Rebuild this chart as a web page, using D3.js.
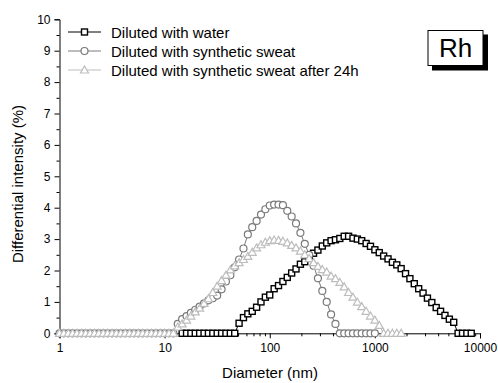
<!DOCTYPE html>
<html><head><meta charset="utf-8">
<script src="https://cdn.jsdelivr.net/npm/d3@7"></script>
<style>body{margin:0;background:#fff}svg{display:block;font-family:"Liberation Sans",Arial,sans-serif}</style>
</head><body><svg id="c" width="498" height="383"></svg>
<script>
// Shared log-spaced diameter grid (nm)
const diameters = [1,1.100,1.212,1.334,1.468,1.616,1.778,1.957,2.154,2.371,2.610,2.873,3.162,3.481,3.831,4.217,4.642,5.109,5.623,6.190,6.813,7.499,8.254,9.085,
10,11.01,12.12,13.34,14.68,16.16,17.78,19.57,21.54,23.71,26.10,28.73,31.62,34.81,38.31,42.17,46.42,51.09,56.23,61.90,68.13,74.99,82.54,90.85,
100,110.1,121.2,133.4,146.8,161.6,177.8,195.7,215.4,237.1,261.0,287.3,316.2,348.1,383.1,421.7,464.2,510.9,562.3,619.0,681.3,749.9,825.4,908.5,
1000,1101,1212,1334,1468,1616,1778,1957,2154,2371,2610,2873,3162,3481,3831,4217,4642,5109,5623,6190,6813,7499,8254,9085,10000];

// Each series: first grid index + values
const waterStart = 28;
const waterValues = [0,0,0,0,0,0,0,0,0,0,0,0,0,
  0.32,0.5,0.62,0.7,0.83,1.0,1.15,1.22,1.42,1.52,1.65,1.78,1.92,2.05,2.2,2.28,2.42,2.55,2.65,2.78,2.88,2.95,2.98,3.02,3.09,3.09,
  3.03,3.0,2.95,2.86,2.77,2.66,2.57,2.46,2.37,2.26,2.18,2.06,1.9,1.74,1.58,1.42,1.28,1.12,0.98,0.82,0.7,0.57,0.45,0.35,
  0,0,0,0];

const sweatStart = 0;
const sweatValues = [0,0,0,0,0,0,0,0,0,0,0,0,0,0,0,0,0,0,0,0,0,0,0,0,0,0,0,
  0.3,0.45,0.55,0.65,0.75,0.85,0.95,1.05,1.12,1.2,1.4,1.65,1.85,2.1,2.35,2.7,3.15,3.38,3.58,3.78,3.95,4.07,4.1,4.1,4.08,
  3.9,3.72,3.5,3.2,2.85,2.5,2.15,1.75,1.35,1.0,0.6,0.3,
  0,0,0,0,0,0,0,0,0];

const sweat24Start = 0;
const sweat24Values = [0,0,0,0,0,0,0,0,0,0,0,0,0,0,0,0,0,0,0,0,0,0,0,0,0,0,0,
  0.2,0.3,0.42,0.55,0.68,0.8,0.95,1.1,1.3,1.5,1.68,1.85,2.02,2.15,2.25,2.35,2.45,2.58,2.72,2.82,2.9,2.95,2.97,2.96,2.93,
  2.88,2.8,2.72,2.62,2.5,2.38,2.25,2.13,2.03,1.95,1.82,1.74,1.62,1.48,1.3,1.15,0.99,0.85,0.7,0.55,0.42,0.25,
  0,0,0,0,0];

const seriesNames = ["Diluted with water","Diluted with synthetic sweat","Diluted with synthetic sweat after 24h"];
const seriesColors = ["#000000","#7a7a7a","#bdbdbd"];
const seriesShapes = ["square","circle","triangle"];
const xTickValues = [1,10,100,1000,10000];
const yTickValues = [0,1,2,3,4,5,6,7,8,9,10];

const svg = d3.select("#c");
const x = d3.scaleLog().domain([1,10000]).range([59.5,480]);
const y = d3.scaleLinear().domain([0,10]).range([333.3,19.3]);

const makeSeries = (start, vals) => vals.map((v,i)=>({d:diameters[start+i], v}));
const series = [makeSeries(waterStart,waterValues), makeSeries(sweatStart,sweatValues), makeSeries(sweat24Start,sweat24Values)];

// axes
const xMinor = [];
for (let e=0;e<4;e++) for (let m=2;m<=9;m++) xMinor.push(m*Math.pow(10,e));
const gx = svg.append("g").attr("transform",`translate(0,${y(0)})`)
  .call(d3.axisBottom(x).tickValues(xMinor).tickSize(3).tickFormat(""));
gx.select(".domain").remove();
svg.append("g").attr("transform",`translate(0,${y(0)})`)
  .call(d3.axisBottom(x).tickValues(xTickValues).tickSize(5).tickPadding(5).tickFormat(d3.format("d")));
const yMinor = d3.range(0.5,10,1);
const gy = svg.append("g").attr("transform",`translate(${x(1)},0)`)
  .call(d3.axisLeft(y).tickValues(yMinor).tickSize(3).tickFormat(""));
gy.select(".domain").remove();
svg.append("g").attr("transform",`translate(${x(1)},0)`)
  .call(d3.axisLeft(y).tickValues(yTickValues).tickSize(5).tickPadding(4));
svg.selectAll(".tick text").attr("font-size",12).attr("fill","#000").attr("font-family","Liberation Sans, Arial, sans-serif");
svg.selectAll(".domain, .tick line").attr("stroke","#000").attr("stroke-width",1);

svg.append("text").attr("x",270).attr("y",378).attr("text-anchor","middle").attr("font-size",15).text("Diameter (nm)");
svg.append("text").attr("transform","translate(23,184) rotate(-90)").attr("text-anchor","middle").attr("font-size",15).text("Differential intensity (%)");

function marker(g, shape, cx, cy, color){
  if(shape==="square") g.append("rect").attr("x",cx-3).attr("y",cy-3).attr("width",6).attr("height",6)
      .attr("fill","#fff").attr("stroke",color).attr("stroke-width",1.4);
  else if(shape==="circle") g.append("circle").attr("cx",cx).attr("cy",cy).attr("r",3.5)
      .attr("fill","#fff").attr("stroke",color).attr("stroke-width",1.2);
  else g.append("path").attr("d",`M${cx},${cy-4}L${cx+4},${cy+3}L${cx-4},${cy+3}Z`)
      .attr("fill","#fff").attr("stroke",color).attr("stroke-width",1.2);
}

const line = d3.line().x(p=>x(p.d)).y(p=>y(p.v));
series.forEach((s,i)=>{
  const g = svg.append("g");
  g.append("path").attr("d",line(s)).attr("fill","none").attr("stroke",seriesColors[i]).attr("stroke-width",1);
  s.forEach(p=>marker(g, seriesShapes[i], x(p.d), y(p.v), seriesColors[i]));
});

// legend
const legY = [32,51,70];
seriesNames.forEach((n,i)=>{
  const g = svg.append("g");
  g.append("line").attr("x1",68).attr("x2",101).attr("y1",legY[i]).attr("y2",legY[i]).attr("stroke",seriesColors[i]).attr("stroke-width",1);
  marker(g, seriesShapes[i], 84.5, legY[i], seriesColors[i]);
  g.append("text").attr("x",111).attr("y",legY[i]+5.5).attr("font-size",15).text(n);
});

// Rh box
svg.append("rect").attr("x",432).attr("y",34.5).attr("width",56).attr("height",36).attr("fill","#000");
svg.append("rect").attr("x",428).attr("y",30.5).attr("width",55).attr("height",35).attr("fill","#fff").attr("stroke","#000").attr("stroke-width",1);
svg.append("text").attr("x",455.5).attr("y",57).attr("text-anchor","middle").attr("font-size",26).text("Rh");
</script>
</body></html>
